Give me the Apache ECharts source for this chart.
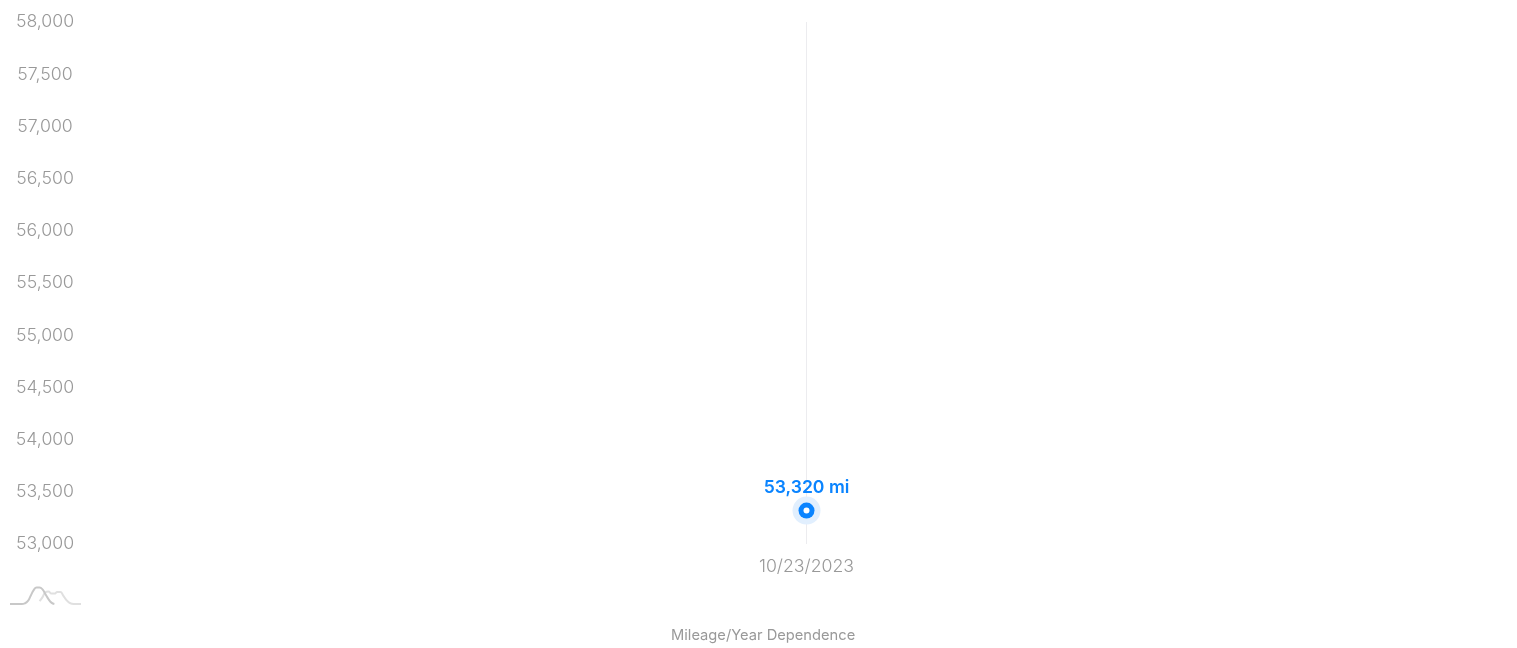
<!DOCTYPE html>
<html><head><meta charset="utf-8">
<style>html,body{margin:0;padding:0;background:#fff}#c{width:1517px;height:648px}</style>
<script src="https://cdn.jsdelivr.net/npm/echarts@6/dist/echarts.min.js"></script>
</head><body><div id="c"></div>
<script>
const categories = ['10/23/2023'];
const mileage = [53320];
const yMin = 53000, yMax = 58000, yStep = 500;
const titleText = 'Mileage/Year Dependence';
const iconIndex = ['a','b','c','d','e','f','g','h','i','j','k','l','m','n','o','p','q','r','s','t','u','v','w','x','y'];
const iconDark = [0,0,0,0,0,0.5,2,6,10,12,12,10.5,7,3.5,1,0,null,null,null,null,null,null,null,null,null];
const iconLight = [null,null,null,null,null,null,null,null,null,null,2,5,8.5,9,7.5,7.5,8.7,8.7,6,3,1,0.2,0,0,0];
const font = 'Inter, "Noto Sans", sans-serif';
const chart = echarts.init(document.getElementById('c'), null, {renderer:'canvas'});
const base = {type:'line', data:mileage, silent:true, showSymbol:true, lineStyle:{opacity:0}, xAxisIndex:0, yAxisIndex:0, animation:false};
chart.setOption({
  animation:false,
  title:{text:titleText, left:666, top:623, textStyle:{fontFamily:font, fontSize:14.7, fontWeight:400, color:'#999'}},
  grid:[{left:96, right:0, top:22, height:522},{left:10, top:586, width:71, height:18}],
  xAxis:[
    {type:'category', data:categories, axisLine:{show:false}, axisTick:{show:false}, splitLine:{show:false},
     axisLabel:{color:'#999', fontFamily:font, fontSize:17.7, fontWeight:300, margin:14}},
    {gridIndex:1, type:'category', data:iconIndex, boundaryGap:false, show:false}
  ],
  yAxis:[
    {type:'value', min:yMin, max:yMax, interval:yStep, axisLine:{show:false}, axisTick:{show:false}, splitLine:{show:false},
     axisLabel:{color:'#999', fontFamily:font, fontSize:17.7, fontWeight:300, align:'center', margin:51,
       formatter:v=>v.toLocaleString('en-US')}},
    {gridIndex:1, type:'value', min:0, max:13, show:false}
  ],
  series:[
    {...base, z:1, symbol:'none', label:{show:false},
     markLine:{silent:true, z:1, symbol:'none', label:{show:false}, lineStyle:{color:'#ECECEF', width:1, type:'solid'}, data:[{xAxis:categories[0]}]}},
    {...base, z:2, symbol:'circle', symbolSize:28, itemStyle:{color:'#E1EFFE'}},
    {...base, z:3, symbol:'circle', symbolSize:16, itemStyle:{color:'#0A84FF'},
     label:{show:true, position:'top', distance:6, formatter:p=>p.value.toLocaleString('en-US')+' mi',
       color:'#0A84FF', fontFamily:font, fontSize:17.6, fontWeight:600}},
    {...base, z:4, symbol:'circle', symbolSize:6, itemStyle:{color:'#fff'}},
    {type:'line', xAxisIndex:1, yAxisIndex:1, data:iconLight, smooth:true, symbol:'none', silent:true, lineStyle:{color:'#E0E0E0', width:2}},
    {type:'line', xAxisIndex:1, yAxisIndex:1, data:iconDark, smooth:true, symbol:'none', silent:true, lineStyle:{color:'#C8C8C8', width:2}}
  ]
});
</script></body></html>
